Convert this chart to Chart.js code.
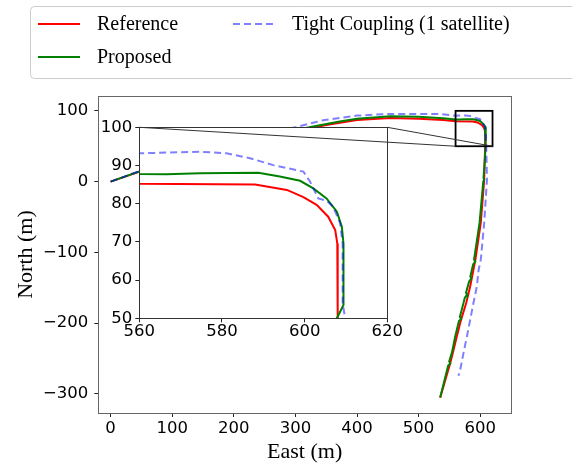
<!DOCTYPE html>
<html>
<head>
<meta charset="utf-8">
<script src="https://cdn.jsdelivr.net/npm/chart.js@4.4.1/dist/chart.umd.min.js"></script>
<style>
  html, body { margin: 0; padding: 0; background: #fff; }
  #wrap { position: relative; width: 572px; height: 464px; }
  #mainChart { position: absolute; left: 0; top: 0; }
  #insetChart { position: absolute; left: 95px; top: 105px; }
</style>
</head>
<body>
<div id="wrap">
  <canvas id="mainChart" width="572" height="464"></canvas>
  <canvas id="insetChart" width="410" height="240"></canvas>
</div>
<script>
// trajectories, East / North in metres
const refEast  = [0, 100, 200, 300, 350, 400, 454, 500, 540, 560, 588, 595.7, 599.7, 602.9, 605.7, 607.4, 607.9, 608,
                  606.5, 601, 592.3, 583.8, 577.3, 569, 562, 555.6, 551.3, 535];
const refNorth = [0, 30, 55, 71, 80, 87, 90, 89, 87, 85.2, 85, 83.6, 81.7, 79.7, 76.6, 73.1, 69.6, 50,
                  2.8, -58, -110, -148, -171.6, -195, -219, -242, -256.5, -305.5];

const propEast  = [0, 100, 200, 300, 329, 372, 400, 454, 500, 540, 560, 566.6, 574.7, 588.8, 594, 598.9, 602.1, 605.3,
                   607.8, 609, 609.4, 609.4, 607.8, 605.4, 606.5, 605, 599, 590, 592, 588.5, 584, 585.5, 582,
                   577, 578.5, 575, 572.9, 567, 569, 565.5, 559.4, 554, 549.7, 551.5, 548, 535];
const propNorth = [0, 31, 57, 73, 78, 85, 89, 92.4, 91.5, 89.5, 87.8, 87.7, 88, 88.1, 87.1, 86, 84, 81.4,
                   77.9, 74, 69.6, 53.5, 50, 5, 3, 0, -58, -110, -113, -117, -134, -137, -141,
                   -157, -160, -164, -171.6, -191, -194, -197, -219, -242, -254, -257, -260, -305];

const tightEast  = [0, 100, 200, 300, 345, 400, 454, 535, 560, 574.7, 581.1, 586.8, 592.4, 599.7, 601.3, 603.3, 605.3,
                    606.9, 608.6, 609.2, 609.2, 609.8, 611, 606.5, 601, 597.5, 594.6, 589, 583.8, 578.4, 572.9, 567.5, 564.8];
const tightNorth = [0, 32, 58, 77, 86.7, 93.3, 95.7, 95.7, 93.2, 93.6, 93.2, 91.9, 90.1, 88.4, 85.8, 81.4, 80.8,
                    79.2, 74.9, 69.6, 54, 50, 2.8, -58, -110, -124.5, -148, -171.6, -195, -219, -242, -266, -274.4];

const seriesNames = ['Reference', 'Proposed', 'Tight Coupling (1 satellite)'];

const mainXTicks = [0, 100, 200, 300, 400, 500, 600];
const mainYTicks = [-300, -200, -100, 0, 100];
const insetXTicks = [560, 580, 600, 620];
const insetYTicks = [50, 60, 70, 80, 90, 100];

// zoomed window shown in the inset
const zoomEast = [560, 620];
const zoomNorth = [50, 100];

const toPoints = (xs, ys) => xs.map((x, i) => ({x: x, y: ys[i]}));
const fmt = v => v < 0 ? '\u2212' + Math.abs(v) : String(v);
const tickFont = {family: 'DejaVu Sans', size: 16.5};

function makeDatasets() {
    return [
        {label: seriesNames[0], data: toPoints(refEast, refNorth), borderColor: '#ff0000', borderWidth: 2, pointRadius: 0, order: 3},
        {label: seriesNames[1], data: toPoints(propEast, propNorth), borderColor: '#008000', borderWidth: 2, pointRadius: 0, order: 2},
        {label: seriesNames[2], data: toPoints(tightEast, tightNorth), borderColor: 'rgba(0,0,255,0.5)', borderDash: [7, 4],
         borderWidth: 2, pointRadius: 0, order: 1}
    ];
}

function axis(min, max, ticks, size, pad, title) {
    return {
        type: 'linear',
        min: min,
        max: max,
        afterBuildTicks: s => { s.ticks = ticks.map(v => ({value: v})); },
        afterFit: s => { if (s.isHorizontal()) s.height = size; else s.width = size; },
        grid: {display: true, drawOnChartArea: false, drawTicks: true, tickLength: 4, color: '#222'},
        border: {display: false},
        ticks: {font: tickFont, color: '#000', padding: pad, maxRotation: 0, autoSkip: false, callback: v => fmt(v)},
        title: title || {display: false}
    };
}

// white plot background + frame
const framePlugin = {
    id: 'frame',
    beforeDraw(chart, args, opts) {
        if (!opts.fill) return;
        const a = chart.chartArea;
        chart.ctx.save();
        chart.ctx.fillStyle = opts.fill;
        chart.ctx.fillRect(a.left, a.top, a.right - a.left, a.bottom - a.top);
        chart.ctx.restore();
    },
    afterDatasetsDraw(chart, args, opts) {
        const a = chart.chartArea;
        const ctx = chart.ctx;
        ctx.save();
        ctx.strokeStyle = opts.color;
        ctx.lineWidth = 1;
        ctx.strokeRect(Math.round(a.left) + 0.5, Math.round(a.top) + 0.5,
                       Math.round(a.right - a.left), Math.round(a.bottom - a.top));
        ctx.restore();
    }
};

// rectangle marking the zoomed window on the main plot
const zoomBoxPlugin = {
    id: 'zoomBox',
    afterDatasetsDraw(chart) {
        const x = chart.scales.x, y = chart.scales.y;
        const ctx = chart.ctx;
        const l = x.getPixelForValue(zoomEast[0]), r = x.getPixelForValue(zoomEast[1]);
        const t = y.getPixelForValue(zoomNorth[1]), b = y.getPixelForValue(zoomNorth[0]);
        ctx.save();
        ctx.strokeStyle = '#000';
        ctx.lineWidth = 1.8;
        ctx.strokeRect(l, t, r - l, b - t);
        ctx.restore();
    }
};

const legendPlugin = {
    id: 'boxLegend',
    afterDraw(chart) {
        const ctx = chart.ctx;
        ctx.save();
        ctx.beginPath();
        ctx.roundRect(30.5, 6.5, 560, 72, 4);
        ctx.fillStyle = '#fff';
        ctx.fill();
        ctx.strokeStyle = '#cccccc';
        ctx.lineWidth = 1;
        ctx.stroke();
        const slots = [{x: 38, y: 24}, {x: 38, y: 57}, {x: 233, y: 24}];
        chart.data.datasets.forEach((ds, i) => {
            const s = slots[i];
            ctx.strokeStyle = ds.borderColor;
            ctx.lineWidth = 2;
            ctx.setLineDash(ds.borderDash || []);
            ctx.beginPath();
            ctx.moveTo(s.x, s.y);
            ctx.lineTo(s.x + 42, s.y);
            ctx.stroke();
            ctx.setLineDash([]);
            ctx.fillStyle = '#000';
            ctx.font = '20px "Liberation Serif"';
            ctx.textBaseline = 'middle';
            ctx.fillText(ds.label, s.x + 59, s.y + 1);
        });
        ctx.restore();
    }
};

const mainChart = new Chart(document.getElementById('mainChart'), {
    type: 'line',
    data: {datasets: makeDatasets()},
    plugins: [framePlugin, zoomBoxPlugin, legendPlugin],
    options: {
        responsive: false,
        animation: false,
        layout: {padding: {left: 0, top: 96, right: 61, bottom: 0}},
        plugins: {
            legend: {display: false},
            tooltip: {enabled: false},
            frame: {color: '#666'}
        },
        scales: {
            x: axis(-20, 650, mainXTicks, 51, 2,
                {display: true, text: 'East (m)', color: '#000', font: {family: 'Liberation Serif', size: 22},
                 padding: {top: 0, bottom: -1}}),
            y: axis(-327, 121, mainYTicks, 98.3, 6,
                {display: true, text: 'North (m)', color: '#000', font: {family: 'Liberation Serif', size: 22},
                 padding: {top: 13.5, bottom: 0}})
        }
    }
});

const insetCanvas = document.getElementById('insetChart');

// lines from the inset corners to the zoom rectangle
const connectorPlugin = {
    id: 'connectors',
    afterDraw(chart) {
        const a = chart.chartArea;
        const mx = mainChart.scales.x, my = mainChart.scales.y;
        const ox = insetCanvas.offsetLeft, oy = insetCanvas.offsetTop;
        const bl = {x: mx.getPixelForValue(zoomEast[0]) - ox, y: my.getPixelForValue(zoomNorth[0]) - oy};
        const br = {x: mx.getPixelForValue(zoomEast[1]) - ox, y: my.getPixelForValue(zoomNorth[0]) - oy};
        const ctx = chart.ctx;
        ctx.save();
        ctx.strokeStyle = '#333';
        ctx.lineWidth = 1;
        ctx.beginPath();
        ctx.moveTo(a.left, a.top);
        ctx.lineTo(bl.x, bl.y);
        ctx.moveTo(a.right, a.top);
        ctx.lineTo(br.x, br.y);
        ctx.stroke();
        ctx.restore();
    }
};

const insetChart = new Chart(insetCanvas, {
    type: 'line',
    data: {datasets: makeDatasets()},
    plugins: [framePlugin, connectorPlugin],
    options: {
        responsive: false,
        animation: false,
        layout: {padding: {left: 0, top: 22.3, right: 117.7, bottom: 0}},
        plugins: {
            legend: {display: false},
            tooltip: {enabled: false},
            frame: {color: '#333', fill: '#fff'}
        },
        scales: {
            x: axis(zoomEast[0], zoomEast[1], insetXTicks, 26.7, 0),
            y: axis(zoomNorth[0], zoomNorth[1], insetYTicks, 44.3, 3)
        }
    }
});
</script>
</body>
</html>
